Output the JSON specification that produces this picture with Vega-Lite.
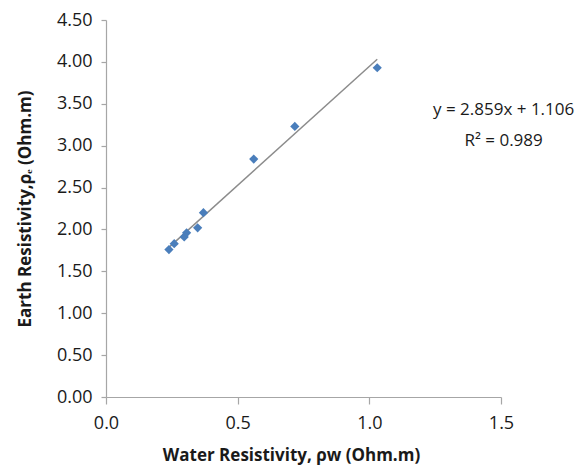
{
  "$schema": "https://vega.github.io/schema/vega-lite/v6.json",
  "width": 395,
  "height": 377,
  "autosize": {"type": "none"},
  "padding": {"left": 106, "top": 20, "right": 84, "bottom": 70},
  "background": "white",
  "config": {
    "view": {"stroke": null},
    "font": "Open Sans",
    "axis": {
      "grid": false,
      "domainColor": "#a6a6a6",
      "tickColor": "#a6a6a6",
      "domainWidth": 1.2,
      "tickWidth": 1.2,
      "labelFont": "Open Sans",
      "labelFontSize": 18,
      "labelColor": "#1a1a1a",
      "labelFlush": false,
      "titleFont": "Open Sans",
      "titleFontSize": 17,
      "titleFontWeight": "bold",
      "titleColor": "#1a1a1a"
    }
  },
  "datasets": {
    "pts": [
      {"rw": 0.239, "re": 1.76},
      {"rw": 0.259, "re": 1.83},
      {"rw": 0.297, "re": 1.91},
      {"rw": 0.306, "re": 1.96},
      {"rw": 0.348, "re": 2.02},
      {"rw": 0.370, "re": 2.20},
      {"rw": 0.561, "re": 2.84},
      {"rw": 0.717, "re": 3.23},
      {"rw": 1.030, "re": 3.93}
    ],
    "ann": [
      {"rw": 1.51, "re": 3.42, "label": "y = 2.859x + 1.106"},
      {"rw": 1.51, "re": 3.06, "label": "R² = 0.989"}
    ]
  },
  "layer": [
    {
      "data": {"name": "pts"},
      "transform": [{"regression": "re", "on": "rw"}],
      "mark": {"type": "line", "color": "#8c8c8c", "strokeWidth": 1.5},
      "encoding": {
        "x": {"field": "rw", "type": "quantitative"},
        "y": {"field": "re", "type": "quantitative"}
      }
    },
    {
      "data": {"name": "pts"},
      "mark": {"type": "point", "shape": "diamond", "filled": true, "color": "#4a7ebb", "opacity": 1, "size": 85},
      "encoding": {
        "x": {
          "field": "rw", "type": "quantitative",
          "scale": {"domain": [0, 1.5], "nice": false},
          "axis": {
            "values": [0, 0.5, 1, 1.5], "format": ".1f",
            "tickSize": 7, "labelPadding": 10,
            "title": "Water Resistivity, ρw (Ohm.m)", "titlePadding": 15,
            "titleX": 185, "titleAlign": "center"
          }
        },
        "y": {
          "field": "re", "type": "quantitative",
          "scale": {"domain": [0, 4.5], "nice": false},
          "axis": {
            "values": [0, 0.5, 1, 1.5, 2, 2.5, 3, 3.5, 4, 4.5], "format": ".2f",
            "tickSize": 5, "labelPadding": 9,
            "title": "Earth Resistivity,ρₑ (Ohm.m)", "titlePadding": 22
          }
        }
      }
    },
    {
      "data": {"name": "ann"},
      "mark": {"type": "text", "fontSize": 17, "align": "center", "color": "#1a1a1a", "clip": false},
      "encoding": {
        "x": {"field": "rw", "type": "quantitative"},
        "y": {"field": "re", "type": "quantitative"},
        "text": {"field": "label"}
      }
    }
  ]
}
